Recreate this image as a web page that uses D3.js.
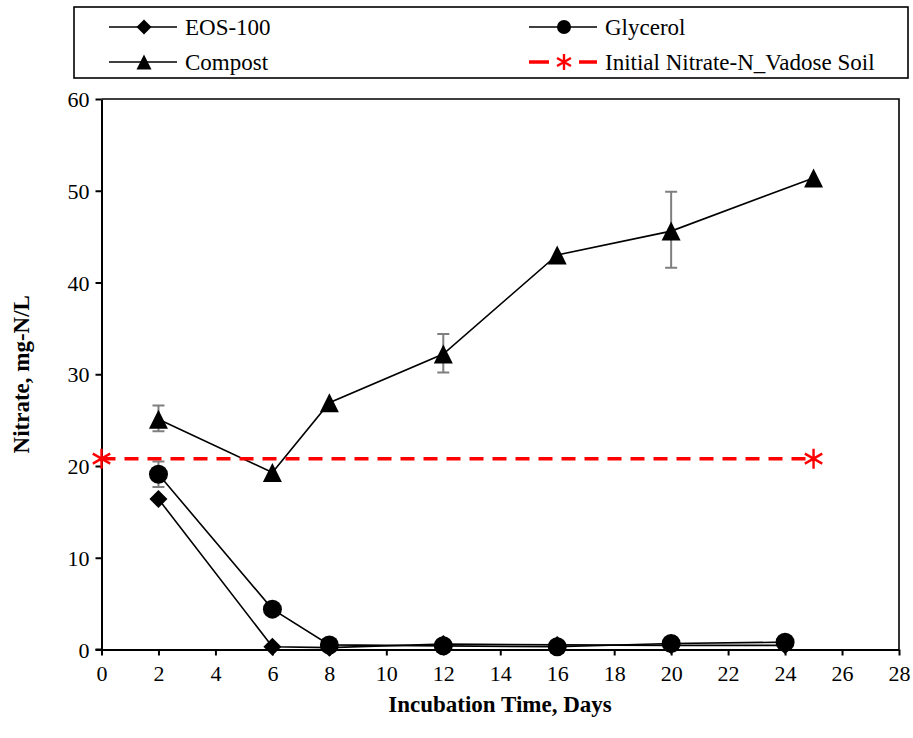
<!DOCTYPE html>
<html>
<head>
<meta charset="utf-8">
<script src="https://cdn.jsdelivr.net/npm/d3@7"></script>
<style>
  html, body { margin: 0; padding: 0; background: #fff; }
  svg { display: block; }
  text { font-family: "Liberation Serif", "Times New Roman", serif; fill: #000; }
</style>
</head>
<body>
<svg id="chart" width="913" height="738"></svg>
<script>
// Nitrate concentration over incubation time for three amendments
const eosDays = [2, 6, 8, 12, 16, 20, 24];
const eosValues = [16.4, 0.3, 0.2, 0.6, 0.5, 0.45, 0.45];

const glycerolDays = [2, 6, 8, 12, 16, 20, 24];
const glycerolValues = [19.1, 4.4, 0.5, 0.4, 0.3, 0.65, 0.8];
const glycerolErrLow = [17.7, null, null, null, null, null, null];
const glycerolErrHigh = [20.5, null, null, null, null, null, null];

const compostDays = [2, 6, 8, 12, 16, 20, 25];
const compostValues = [25.1, 19.3, 26.9, 32.2, 43.0, 45.6, 51.4];
const compostErrLow = [23.8, null, null, 30.2, null, 41.6, null];
const compostErrHigh = [26.6, null, null, 34.4, null, 49.9, null];

const initialDays = [0, 25];
const initialValues = [20.8, 20.8];

const xTicks = [0, 2, 4, 6, 8, 10, 12, 14, 16, 18, 20, 22, 24, 26, 28];
const yTicks = [0, 10, 20, 30, 40, 50, 60];

const svg = d3.select("#chart");
const serif = '"Liberation Serif", "Times New Roman", serif';

const x = d3.scaleLinear().domain([0, 28]).range([101.5, 899]);
const y = d3.scaleLinear().domain([0, 60]).range([649.5, 99]);

// Plot-area frame (top and right edges)
svg.append("path")
  .attr("d", `M${x(0)},${y(60)}H${x(28)}V${y(0)}`)
  .attr("fill", "none").attr("stroke", "#000").attr("stroke-width", 1.6);

// Axes
const xAxis = svg.append("g")
  .attr("transform", `translate(0,${y(0)})`)
  .call(d3.axisBottom(x).tickValues(xTicks).tickSize(6).tickPadding(7).tickSizeOuter(0));
const yAxis = svg.append("g")
  .attr("transform", `translate(${x(0)},0)`)
  .call(d3.axisLeft(y).tickValues(yTicks).tickSize(6).tickPadding(6).tickSizeOuter(0));

[xAxis, yAxis].forEach(g => {
  g.attr("font-family", serif).attr("font-size", 22);
  g.select(".domain").attr("stroke", "#000").attr("stroke-width", 2);
  g.selectAll(".tick line").attr("stroke", "#000").attr("stroke-width", 2);
  g.selectAll(".tick text")
    .style("font-family", serif)
    .style("font-size", "22px").attr("fill", "#000");
});
xAxis.selectAll(".tick text").attr("dy", "0.85em");
yAxis.selectAll(".tick text").attr("dy", "0.35em");
// extend the x axis line slightly left so it meets the y tick at 0
svg.append("line")
  .attr("x1", x(0) - 6).attr("x2", x(0))
  .attr("y1", y(0)).attr("y2", y(0))
  .attr("stroke", "#000").attr("stroke-width", 2);

// Axis titles
svg.append("text")
  .attr("x", 500).attr("y", 712)
  .attr("text-anchor", "middle")
  .style("font-size", "23px").style("font-weight", "bold")
  .text("Incubation Time, Days");
svg.append("text")
  .attr("transform", `translate(29,${y(30)}) rotate(-90)`)
  .attr("text-anchor", "middle")
  .style("font-size", "23px").style("font-weight", "bold")
  .text("Nitrate, mg-N/L");

const line = d3.line().x(d => x(d[0])).y(d => y(d[1]));
const zip = (a, b) => a.map((v, i) => [v, b[i]]);

// Marker shapes
function diamond(g, cx, cy, s) {
  g.append("path")
    .attr("d", `M${cx},${cy - s}L${cx + s},${cy}L${cx},${cy + s}L${cx - s},${cy}Z`)
    .attr("fill", "#000");
}
function circle(g, cx, cy, r) {
  g.append("circle").attr("cx", cx).attr("cy", cy).attr("r", r).attr("fill", "#000");
}
function triangle(g, cx, cy, s) {
  g.append("path")
    .attr("d", `M${cx},${cy - s}L${cx + s},${cy + s}L${cx - s},${cy + s}Z`)
    .attr("fill", "#000");
}
function asterisk(g, cx, cy, s, color, w) {
  const d = s * 0.87;
  g.append("path")
    .attr("d", `M${cx},${cy - s}V${cy + s}M${cx - d},${cy - s * 0.5}L${cx + d},${cy + s * 0.5}M${cx - d},${cy + s * 0.5}L${cx + d},${cy - s * 0.5}`)
    .attr("stroke", color).attr("stroke-width", w).attr("fill", "none");
}

// Error bars
function errorBars(days, lo, hi) {
  const g = svg.append("g");
  days.forEach((d, i) => {
    if (lo[i] == null) return;
    const cx = x(d), y1 = y(lo[i]), y2 = y(hi[i]);
    g.append("path")
      .attr("d", `M${cx},${y1}V${y2}M${cx - 6},${y1}H${cx + 6}M${cx - 6},${y2}H${cx + 6}`)
      .attr("stroke", "#7f7f7f").attr("stroke-width", 2).attr("fill", "none");
  });
}

// EOS-100
const gE = svg.append("g");
gE.append("path").datum(zip(eosDays, eosValues)).attr("d", line)
  .attr("fill", "none").attr("stroke", "#000").attr("stroke-width", 1.6);
eosDays.forEach((d, i) => diamond(gE, x(d), y(eosValues[i]), 9));

// Glycerol
errorBars(glycerolDays, glycerolErrLow, glycerolErrHigh);
const gG = svg.append("g");
gG.append("path").datum(zip(glycerolDays, glycerolValues)).attr("d", line)
  .attr("fill", "none").attr("stroke", "#000").attr("stroke-width", 1.6);
glycerolDays.forEach((d, i) => circle(gG, x(d), y(glycerolValues[i]), 9.5));

// Compost
errorBars(compostDays, compostErrLow, compostErrHigh);
const gC = svg.append("g");
gC.append("path").datum(zip(compostDays, compostValues)).attr("d", line)
  .attr("fill", "none").attr("stroke", "#000").attr("stroke-width", 1.6);
compostDays.forEach((d, i) => triangle(gC, x(d), y(compostValues[i]), 9.5));

// Initial nitrate reference line
const gI = svg.append("g");
gI.append("path").datum(zip(initialDays, initialValues)).attr("d", line)
  .attr("fill", "none").attr("stroke", "#ff0000").attr("stroke-width", 3.5)
  .attr("stroke-dasharray", "14,9");
initialDays.forEach((d, i) => asterisk(gI, x(d), y(initialValues[i]), 10, "#ff0000", 2.4));

// Legend
const legend = svg.append("g");
legend.append("rect")
  .attr("x", 74).attr("y", 7).attr("width", 834).attr("height", 71)
  .attr("fill", "#fff").attr("stroke", "#000").attr("stroke-width", 1.6);

const legendItems = [
  { name: "EOS-100", lx: 109, ly: 27, mark: "diamond" },
  { name: "Glycerol", lx: 529, ly: 27, mark: "circle" },
  { name: "Compost", lx: 109, ly: 62, mark: "triangle" },
  { name: "Initial Nitrate-N_Vadose Soil", lx: 529, ly: 62, mark: "asterisk" }
];
legendItems.forEach(it => {
  const cx = it.lx + 35;
  if (it.mark === "asterisk") {
    [[it.lx, it.lx + 20], [it.lx + 50, it.lx + 68]].forEach(([a, b]) => {
      legend.append("line")
        .attr("x1", a).attr("x2", b).attr("y1", it.ly).attr("y2", it.ly)
        .attr("stroke", "#ff0000").attr("stroke-width", 3.5);
    });
    asterisk(legend, cx, it.ly, 8, "#ff0000", 2.4);
  } else {
    legend.append("line")
      .attr("x1", it.lx).attr("x2", it.lx + 68).attr("y1", it.ly).attr("y2", it.ly)
      .attr("stroke", "#000").attr("stroke-width", 1.6);
    if (it.mark === "diamond") diamond(legend, cx, it.ly, 7.5);
    if (it.mark === "circle") circle(legend, cx, it.ly, 7);
    if (it.mark === "triangle") triangle(legend, cx, it.ly, 7.5);
  }
  legend.append("text")
    .attr("x", it.lx + 76).attr("y", it.ly).attr("dy", "0.35em")
    .style("font-size", "23px")
    .text(it.name);
});
</script>
</body>
</html>
